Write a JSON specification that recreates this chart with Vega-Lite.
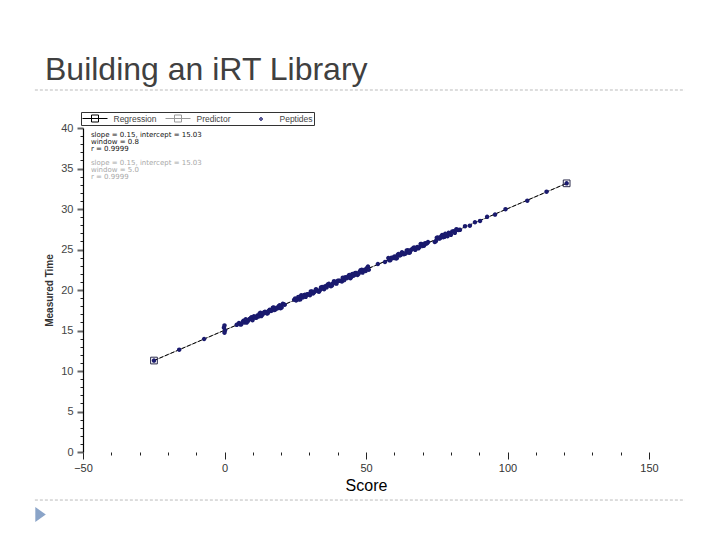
{
  "$schema": "https://vega.github.io/schema/vega-lite/v6.json",
  "width": 566,
  "height": 324,
  "autosize": {"type": "none"},
  "padding": {"left": 83, "top": 128, "right": 71, "bottom": 88},
  "background": "white",
  "title": {"text": "Building an iRT Library", "anchor": "start", "frame": "group", "fontSize": 32, "fontWeight": "normal", "color": "#404040", "font": "Liberation Sans", "dx": -38, "offset": 3},
  "datasets": {
    "peptides": [
      {"score": -24.92, "time": 11.29, "series": "Peptides"},
      {"score": -16.0, "time": 12.63, "series": "Peptides"},
      {"score": -7.2, "time": 13.95, "series": "Peptides"},
      {"score": 0.0, "time": 14.72, "series": "Peptides"},
      {"score": 0.2, "time": 15.02, "series": "Peptides"},
      {"score": -0.2, "time": 15.35, "series": "Peptides"},
      {"score": 0.0, "time": 15.63, "series": "Peptides"},
      {"score": 4.3, "time": 15.7, "series": "Peptides"},
      {"score": 5.1, "time": 15.92, "series": "Peptides"},
      {"score": 5.5, "time": 15.76, "series": "Peptides"},
      {"score": 5.9, "time": 15.74, "series": "Peptides"},
      {"score": 6.4, "time": 16.04, "series": "Peptides"},
      {"score": 6.7, "time": 16.19, "series": "Peptides"},
      {"score": 7.0, "time": 16.0, "series": "Peptides"},
      {"score": 7.5, "time": 16.38, "series": "Peptides"},
      {"score": 7.8, "time": 15.98, "series": "Peptides"},
      {"score": 8.2, "time": 16.11, "series": "Peptides"},
      {"score": 8.6, "time": 16.32, "series": "Peptides"},
      {"score": 8.9, "time": 16.43, "series": "Peptides"},
      {"score": 9.3, "time": 16.53, "series": "Peptides"},
      {"score": 9.6, "time": 16.65, "series": "Peptides"},
      {"score": 9.9, "time": 16.27, "series": "Peptides"},
      {"score": 10.4, "time": 16.76, "series": "Peptides"},
      {"score": 10.7, "time": 16.6, "series": "Peptides"},
      {"score": 11.0, "time": 16.63, "series": "Peptides"},
      {"score": 11.3, "time": 16.57, "series": "Peptides"},
      {"score": 11.6, "time": 16.85, "series": "Peptides"},
      {"score": 12.1, "time": 16.73, "series": "Peptides"},
      {"score": 12.4, "time": 17.09, "series": "Peptides"},
      {"score": 12.7, "time": 17.19, "series": "Peptides"},
      {"score": 13.0, "time": 16.78, "series": "Peptides"},
      {"score": 13.4, "time": 16.95, "series": "Peptides"},
      {"score": 13.8, "time": 17.13, "series": "Peptides"},
      {"score": 14.0, "time": 17.24, "series": "Peptides"},
      {"score": 14.3, "time": 17.3, "series": "Peptides"},
      {"score": 14.7, "time": 17.24, "series": "Peptides"},
      {"score": 15.0, "time": 17.1, "series": "Peptides"},
      {"score": 15.3, "time": 17.13, "series": "Peptides"},
      {"score": 15.6, "time": 17.42, "series": "Peptides"},
      {"score": 16.0, "time": 17.57, "series": "Peptides"},
      {"score": 16.4, "time": 17.41, "series": "Peptides"},
      {"score": 16.8, "time": 17.49, "series": "Peptides"},
      {"score": 17.1, "time": 17.82, "series": "Peptides"},
      {"score": 17.4, "time": 17.85, "series": "Peptides"},
      {"score": 17.7, "time": 17.54, "series": "Peptides"},
      {"score": 18.1, "time": 17.62, "series": "Peptides"},
      {"score": 18.5, "time": 17.81, "series": "Peptides"},
      {"score": 18.8, "time": 17.75, "series": "Peptides"},
      {"score": 19.2, "time": 18.01, "series": "Peptides"},
      {"score": 19.5, "time": 18.11, "series": "Peptides"},
      {"score": 19.8, "time": 17.75, "series": "Peptides"},
      {"score": 20.2, "time": 17.84, "series": "Peptides"},
      {"score": 20.6, "time": 18.29, "series": "Peptides"},
      {"score": 20.9, "time": 18.23, "series": "Peptides"},
      {"score": 21.3, "time": 18.18, "series": "Peptides"},
      {"score": 24.6, "time": 18.8, "series": "Peptides"},
      {"score": 25.0, "time": 18.96, "series": "Peptides"},
      {"score": 25.3, "time": 18.71, "series": "Peptides"},
      {"score": 25.7, "time": 18.85, "series": "Peptides"},
      {"score": 26.1, "time": 19.15, "series": "Peptides"},
      {"score": 26.4, "time": 18.83, "series": "Peptides"},
      {"score": 26.8, "time": 18.85, "series": "Peptides"},
      {"score": 27.1, "time": 19.35, "series": "Peptides"},
      {"score": 27.4, "time": 19.17, "series": "Peptides"},
      {"score": 27.7, "time": 19.1, "series": "Peptides"},
      {"score": 28.0, "time": 19.35, "series": "Peptides"},
      {"score": 28.4, "time": 19.4, "series": "Peptides"},
      {"score": 28.7, "time": 19.16, "series": "Peptides"},
      {"score": 29.2, "time": 19.46, "series": "Peptides"},
      {"score": 29.5, "time": 19.46, "series": "Peptides"},
      {"score": 29.9, "time": 19.44, "series": "Peptides"},
      {"score": 30.2, "time": 19.36, "series": "Peptides"},
      {"score": 30.5, "time": 19.83, "series": "Peptides"},
      {"score": 30.9, "time": 19.81, "series": "Peptides"},
      {"score": 31.3, "time": 19.58, "series": "Peptides"},
      {"score": 31.6, "time": 19.71, "series": "Peptides"},
      {"score": 31.9, "time": 19.82, "series": "Peptides"},
      {"score": 32.3, "time": 20.09, "series": "Peptides"},
      {"score": 32.6, "time": 20.02, "series": "Peptides"},
      {"score": 33.0, "time": 19.85, "series": "Peptides"},
      {"score": 33.4, "time": 19.79, "series": "Peptides"},
      {"score": 33.8, "time": 20.0, "series": "Peptides"},
      {"score": 34.1, "time": 20.32, "series": "Peptides"},
      {"score": 34.5, "time": 20.36, "series": "Peptides"},
      {"score": 34.8, "time": 20.2, "series": "Peptides"},
      {"score": 35.2, "time": 20.09, "series": "Peptides"},
      {"score": 35.5, "time": 20.44, "series": "Peptides"},
      {"score": 35.8, "time": 20.46, "series": "Peptides"},
      {"score": 36.1, "time": 20.33, "series": "Peptides"},
      {"score": 36.5, "time": 20.69, "series": "Peptides"},
      {"score": 36.9, "time": 20.77, "series": "Peptides"},
      {"score": 37.2, "time": 20.57, "series": "Peptides"},
      {"score": 37.6, "time": 20.47, "series": "Peptides"},
      {"score": 38.0, "time": 20.57, "series": "Peptides"},
      {"score": 38.3, "time": 20.81, "series": "Peptides"},
      {"score": 38.7, "time": 21.09, "series": "Peptides"},
      {"score": 39.0, "time": 21.0, "series": "Peptides"},
      {"score": 39.3, "time": 20.84, "series": "Peptides"},
      {"score": 39.6, "time": 20.79, "series": "Peptides"},
      {"score": 40.0, "time": 21.14, "series": "Peptides"},
      {"score": 40.4, "time": 21.14, "series": "Peptides"},
      {"score": 40.8, "time": 21.15, "series": "Peptides"},
      {"score": 41.1, "time": 21.12, "series": "Peptides"},
      {"score": 41.5, "time": 21.06, "series": "Peptides"},
      {"score": 41.8, "time": 21.52, "series": "Peptides"},
      {"score": 42.3, "time": 21.23, "series": "Peptides"},
      {"score": 42.7, "time": 21.58, "series": "Peptides"},
      {"score": 43.0, "time": 21.48, "series": "Peptides"},
      {"score": 43.3, "time": 21.47, "series": "Peptides"},
      {"score": 43.7, "time": 21.69, "series": "Peptides"},
      {"score": 44.1, "time": 21.86, "series": "Peptides"},
      {"score": 44.5, "time": 21.46, "series": "Peptides"},
      {"score": 44.8, "time": 21.62, "series": "Peptides"},
      {"score": 45.2, "time": 21.98, "series": "Peptides"},
      {"score": 45.6, "time": 21.77, "series": "Peptides"},
      {"score": 45.9, "time": 21.87, "series": "Peptides"},
      {"score": 46.2, "time": 22.11, "series": "Peptides"},
      {"score": 46.6, "time": 22.1, "series": "Peptides"},
      {"score": 47.0, "time": 21.86, "series": "Peptides"},
      {"score": 47.4, "time": 22.02, "series": "Peptides"},
      {"score": 47.8, "time": 22.26, "series": "Peptides"},
      {"score": 48.1, "time": 22.45, "series": "Peptides"},
      {"score": 48.5, "time": 22.49, "series": "Peptides"},
      {"score": 48.8, "time": 22.15, "series": "Peptides"},
      {"score": 49.1, "time": 22.36, "series": "Peptides"},
      {"score": 49.5, "time": 22.49, "series": "Peptides"},
      {"score": 49.9, "time": 22.36, "series": "Peptides"},
      {"score": 50.3, "time": 22.7, "series": "Peptides"},
      {"score": 50.7, "time": 22.89, "series": "Peptides"},
      {"score": 51.0, "time": 22.5, "series": "Peptides"},
      {"score": 54.2, "time": 23.21, "series": "Peptides"},
      {"score": 56.7, "time": 23.46, "series": "Peptides"},
      {"score": 57.9, "time": 23.94, "series": "Peptides"},
      {"score": 58.2, "time": 23.67, "series": "Peptides"},
      {"score": 58.6, "time": 23.67, "series": "Peptides"},
      {"score": 59.0, "time": 23.99, "series": "Peptides"},
      {"score": 59.4, "time": 23.94, "series": "Peptides"},
      {"score": 59.8, "time": 24.0, "series": "Peptides"},
      {"score": 60.1, "time": 24.15, "series": "Peptides"},
      {"score": 60.5, "time": 23.91, "series": "Peptides"},
      {"score": 60.9, "time": 23.92, "series": "Peptides"},
      {"score": 61.2, "time": 24.35, "series": "Peptides"},
      {"score": 61.5, "time": 24.43, "series": "Peptides"},
      {"score": 61.9, "time": 24.26, "series": "Peptides"},
      {"score": 62.3, "time": 24.33, "series": "Peptides"},
      {"score": 62.7, "time": 24.65, "series": "Peptides"},
      {"score": 63.0, "time": 24.56, "series": "Peptides"},
      {"score": 63.4, "time": 24.41, "series": "Peptides"},
      {"score": 63.8, "time": 24.48, "series": "Peptides"},
      {"score": 64.1, "time": 24.55, "series": "Peptides"},
      {"score": 64.4, "time": 24.89, "series": "Peptides"},
      {"score": 64.8, "time": 24.9, "series": "Peptides"},
      {"score": 65.2, "time": 24.61, "series": "Peptides"},
      {"score": 65.5, "time": 24.64, "series": "Peptides"},
      {"score": 65.9, "time": 24.95, "series": "Peptides"},
      {"score": 66.3, "time": 25.04, "series": "Peptides"},
      {"score": 66.7, "time": 25.16, "series": "Peptides"},
      {"score": 67.0, "time": 25.26, "series": "Peptides"},
      {"score": 67.4, "time": 24.96, "series": "Peptides"},
      {"score": 67.8, "time": 25.16, "series": "Peptides"},
      {"score": 68.1, "time": 25.3, "series": "Peptides"},
      {"score": 68.5, "time": 25.15, "series": "Peptides"},
      {"score": 68.9, "time": 25.29, "series": "Peptides"},
      {"score": 69.3, "time": 25.68, "series": "Peptides"},
      {"score": 69.6, "time": 25.69, "series": "Peptides"},
      {"score": 70.0, "time": 25.44, "series": "Peptides"},
      {"score": 70.5, "time": 25.46, "series": "Peptides"},
      {"score": 70.9, "time": 25.78, "series": "Peptides"},
      {"score": 71.2, "time": 25.71, "series": "Peptides"},
      {"score": 71.6, "time": 25.77, "series": "Peptides"},
      {"score": 71.9, "time": 25.92, "series": "Peptides"},
      {"score": 74.3, "time": 25.93, "series": "Peptides"},
      {"score": 74.7, "time": 26.04, "series": "Peptides"},
      {"score": 75.0, "time": 26.45, "series": "Peptides"},
      {"score": 75.4, "time": 26.48, "series": "Peptides"},
      {"score": 75.8, "time": 26.35, "series": "Peptides"},
      {"score": 76.2, "time": 26.4, "series": "Peptides"},
      {"score": 76.5, "time": 26.59, "series": "Peptides"},
      {"score": 76.9, "time": 26.78, "series": "Peptides"},
      {"score": 77.3, "time": 26.51, "series": "Peptides"},
      {"score": 77.7, "time": 26.56, "series": "Peptides"},
      {"score": 78.0, "time": 26.93, "series": "Peptides"},
      {"score": 78.4, "time": 26.69, "series": "Peptides"},
      {"score": 78.8, "time": 26.65, "series": "Peptides"},
      {"score": 79.2, "time": 27.06, "series": "Peptides"},
      {"score": 79.6, "time": 27.0, "series": "Peptides"},
      {"score": 80.0, "time": 26.81, "series": "Peptides"},
      {"score": 80.5, "time": 27.23, "series": "Peptides"},
      {"score": 81.0, "time": 27.24, "series": "Peptides"},
      {"score": 81.4, "time": 27.06, "series": "Peptides"},
      {"score": 81.9, "time": 27.5, "series": "Peptides"},
      {"score": 82.3, "time": 27.43, "series": "Peptides"},
      {"score": 82.8, "time": 27.41, "series": "Peptides"},
      {"score": 83.2, "time": 27.43, "series": "Peptides"},
      {"score": 85.0, "time": 27.88, "series": "Peptides"},
      {"score": 86.7, "time": 27.94, "series": "Peptides"},
      {"score": 88.5, "time": 28.36, "series": "Peptides"},
      {"score": 90.3, "time": 28.53, "series": "Peptides"},
      {"score": 92.8, "time": 29.03, "series": "Peptides"},
      {"score": 95.6, "time": 29.31, "series": "Peptides"},
      {"score": 99.3, "time": 29.98, "series": "Peptides"},
      {"score": 107.0, "time": 31.03, "series": "Peptides"},
      {"score": 113.8, "time": 32.14, "series": "Peptides"},
      {"score": 120.9, "time": 33.17, "series": "Peptides"}
    ],
    "fit": [
      {"score": -24.92, "time": 11.29},
      {"score": 120.9, "time": 33.17}
    ],
    "one": [{"k": 1}]
  },
  "layer": [
    {
      "data": {"name": "one"},
      "mark": {"type": "rule", "color": "#bbbbbb", "strokeDash": [3, 2], "strokeWidth": 1},
      "encoding": {
        "x": {"datum": -67, "type": "quantitative", "scale": {"domain": [-50, 150], "nice": false}},
        "x2": {"datum": 162.7},
        "y": {"datum": 44.69, "type": "quantitative", "scale": {"domain": [0, 40], "nice": false}}
      }
    },
    {
      "data": {"name": "one"},
      "mark": {"type": "rule", "color": "#bbbbbb", "strokeDash": [3, 2], "strokeWidth": 1},
      "encoding": {
        "x": {"datum": -67, "type": "quantitative", "scale": {"domain": [-50, 150], "nice": false}},
        "x2": {"datum": 162.7},
        "y": {"datum": -5.93, "type": "quantitative", "scale": {"domain": [0, 40], "nice": false}}
      }
    },
    {
      "data": {"name": "one"},
      "mark": {"type": "point", "filled": true, "opacity": 1, "shape": "M-0.7,-1L0.7,0L-0.7,1Z", "size": 225, "color": "#8aa4c8"},
      "encoding": {
        "x": {"datum": -65.0, "type": "quantitative", "scale": {"domain": [-50, 150], "nice": false}},
        "y": {"datum": -7.72, "type": "quantitative", "scale": {"domain": [0, 40], "nice": false}}
      }
    },
    {
      "data": {"name": "fit"},
      "mark": {"type": "line", "color": "#9a9a9a", "strokeWidth": 1},
      "encoding": {
        "x": {"field": "score", "type": "quantitative", "scale": {"domain": [-50, 150], "nice": false}},
        "y": {"field": "time", "type": "quantitative", "scale": {"domain": [0, 40], "nice": false}}
      }
    },
    {
      "data": {"name": "fit"},
      "mark": {"type": "line", "color": "#000000", "strokeWidth": 1, "strokeDash": [4, 2]},
      "encoding": {
        "x": {"field": "score", "type": "quantitative", "scale": {"domain": [-50, 150], "nice": false}},
        "y": {"field": "time", "type": "quantitative", "scale": {"domain": [0, 40], "nice": false}}
      }
    },
    {
      "data": {"name": "peptides"},
      "mark": {"type": "point", "filled": false, "opacity": 1, "size": 100, "strokeWidth": 1.5},
      "encoding": {
        "x": {
          "field": "score", "type": "quantitative",
          "scale": {"domain": [-50, 150], "nice": false},
          "axis": {
            "title": "Score", "titleFontSize": 16, "titleFontWeight": "normal", "titleColor": "#000000", "titlePadding": 4,
            "values": [-50, -40, -30, -20, -10, 0, 10, 20, 30, 40, 50, 60, 70, 80, 90, 100, 110, 120, 130, 140, 150],
            "tickCount": 100, "format": "d",
            "labelExpr": "datum.value % 50 === 0 ? datum.label : ''",
            "domain": false, "grid": false,
            "tickColor": "#222222",
            "tickSize": {"condition": {"test": "datum.value % 50 === 0", "value": 7}, "value": 3},
            "tickWidth": 1,
            "labelFontSize": 11, "labelColor": "#333333", "labelPadding": 3, "labelFlush": false, "labelOverlap": false
          }
        },
        "y": {
          "field": "time", "type": "quantitative",
          "scale": {"domain": [0, 40], "nice": false},
          "axis": {
            "title": "Measured Time", "titleFontSize": 10, "titleFontWeight": "bold", "titleColor": "#333333", "titlePadding": 6,
            "values": [0, 1, 2, 3, 4, 5, 6, 7, 8, 9, 10, 11, 12, 13, 14, 15, 16, 17, 18, 19, 20, 21, 22, 23, 24, 25, 26, 27, 28, 29, 30, 31, 32, 33, 34, 35, 36, 37, 38, 39, 40],
            "tickCount": 100, "format": "d",
            "labelExpr": "datum.value % 5 === 0 ? datum.label : ''",
            "domainColor": "#000000", "domainWidth": 1.2, "grid": false,
            "tickColor": {"condition": {"test": "datum.value % 5 === 0", "value": "#666666"}, "value": "#222222"},
            "tickSize": {"condition": {"test": "datum.value % 5 === 0", "value": 6}, "value": 3},
            "tickWidth": {"condition": {"test": "datum.value % 5 === 0", "value": 2}, "value": 1},
            "labelFontSize": 11, "labelColor": "#444444", "labelPadding": 4, "labelOverlap": false, "labelFlush": false
          }
        },
        "color": {
          "field": "series", "type": "nominal",
          "scale": {"domain": ["Regression", "Predictor", "Peptides"], "range": ["#000000", "#9a9a9a", "#1a1a6e"]},
          "legend": {
            "title": null, "orient": "none", "legendX": -2, "legendY": -16, "direction": "horizontal",
            "strokeColor": "#333333", "fillColor": "#ffffff", "padding": 1,
            "labelFontSize": 8.5, "labelColor": "#444444", "labelFont": "Liberation Sans",
            "symbolOffset": 7.5, "labelOffset": 13, "columnPadding": 6, "gridAlign": "all",
            "symbolStrokeWidth": 1
          }
        },
        "shape": {
          "field": "series", "type": "nominal",
          "scale": {"domain": ["Regression", "Predictor", "Peptides"], "range": ["M-2.5,0H2.5M-0.7,-0.7H0.7V0.7H-0.7Z", "M-2.5,0H2.5M-0.7,-0.7H0.7V0.7H-0.7Z", "M-0.3,0A0.3,0.3 0 1,0 0.3,0A0.3,0.3 0 1,0 -0.3,0ZM-0.12,0A0.12,0.12 0 1,0 0.12,0A0.12,0.12 0 1,0 -0.12,0Z"]}
        }
      }
    },
    {
      "data": {"name": "fit"},
      "mark": {"type": "point", "shape": "square", "filled": false, "opacity": 1, "size": 45, "stroke": "#2a2a4a", "strokeWidth": 1},
      "encoding": {
        "x": {"field": "score", "type": "quantitative", "scale": {"domain": [-50, 150], "nice": false}},
        "y": {"field": "time", "type": "quantitative", "scale": {"domain": [0, 40], "nice": false}}
      }
    },
    {
      "data": {"name": "one"},
      "mark": {"type": "text", "align": "left", "baseline": "top", "fontSize": 7, "lineHeight": 7, "color": "#111111", "font": "DejaVu Sans"},
      "encoding": {
        "x": {"datum": -47.2, "type": "quantitative", "scale": {"domain": [-50, 150], "nice": false}},
        "y": {"datum": 39.6, "type": "quantitative", "scale": {"domain": [0, 40], "nice": false}},
        "text": {"value": ["slope = 0.15, intercept = 15.03", "window = 0.8", "r = 0.9999"]}
      }
    },
    {
      "data": {"name": "one"},
      "mark": {"type": "text", "align": "left", "baseline": "top", "fontSize": 7, "lineHeight": 7, "color": "#a8a8a8", "font": "DejaVu Sans"},
      "encoding": {
        "x": {"datum": -47.2, "type": "quantitative", "scale": {"domain": [-50, 150], "nice": false}},
        "y": {"datum": 36.2, "type": "quantitative", "scale": {"domain": [0, 40], "nice": false}},
        "text": {"value": ["slope = 0.15, intercept = 15.03", "window = 5.0", "r = 0.9999"]}
      }
    }
  ],
  "config": {"view": {"stroke": null}, "font": "Liberation Sans"}
}
